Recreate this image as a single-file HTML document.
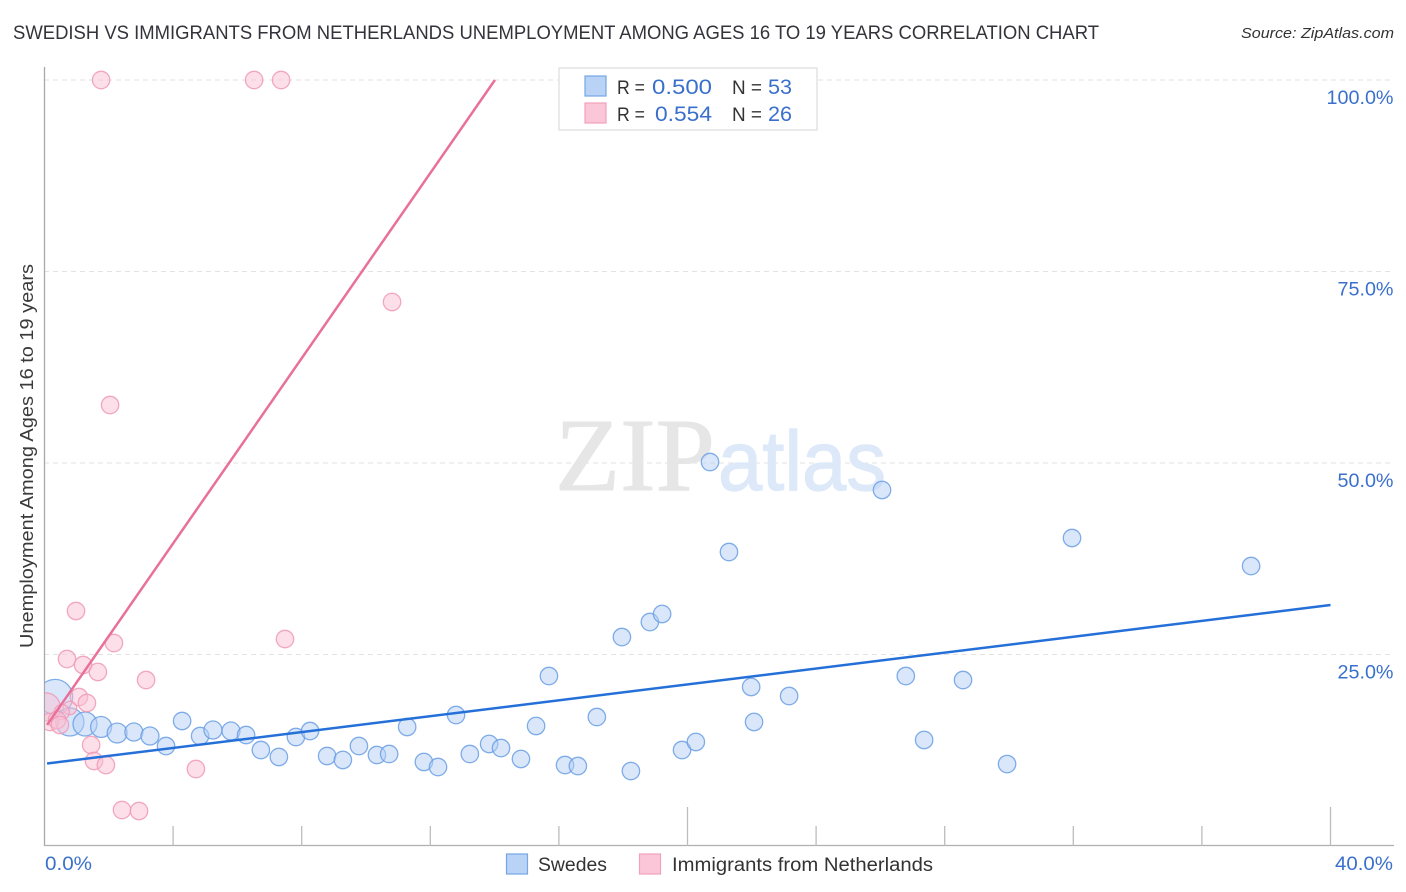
<!DOCTYPE html>
<html lang="en">
<head>
<meta charset="utf-8">
<title>Swedish vs Immigrants from Netherlands Unemployment Correlation Chart</title>
<style>
html,body{margin:0;padding:0;background:#fff;width:1406px;height:892px;overflow:hidden}
svg{display:block}
text{font-family:"Liberation Sans",sans-serif}
</style>
</head>
<body>
<svg id="chart" xmlns="http://www.w3.org/2000/svg" width="1406" height="892" viewBox="0 0 1406 892">
  <defs><clipPath id="plot-clip"><rect x="45" y="60" width="1349" height="785"/></clipPath></defs>
  <text x="13" y="39" font-size="19.5" fill="#33333b" textLength="1086" lengthAdjust="spacingAndGlyphs">SWEDISH VS IMMIGRANTS FROM NETHERLANDS UNEMPLOYMENT AMONG AGES 16 TO 19 YEARS CORRELATION CHART</text>
  <text x="1241" y="38" font-size="15" font-style="italic" fill="#333" textLength="153" lengthAdjust="spacingAndGlyphs">Source: ZipAtlas.com</text>
  <text transform="translate(33,648) rotate(-90)" font-size="18" fill="#3a3a3a" textLength="384" lengthAdjust="spacingAndGlyphs">Unemployment Among Ages 16 to 19 years</text>
  <g id="grid"></g>
  <g>
    <text x="555" y="490" font-size="104" fill="#e6e6e6" stroke="#e6e6e6" stroke-width="1" textLength="160" lengthAdjust="spacingAndGlyphs" style="font-family:'Liberation Serif',serif">ZIP</text>
    <text x="718" y="490" font-size="84" fill="#dde9f9" stroke="#dde9f9" stroke-width="1.2" textLength="168" lengthAdjust="spacingAndGlyphs">atlas</text>
  </g>
  <g id="axes"></g>
  <g id="marks" clip-path="url(#plot-clip)"></g>
  <g id="labels"></g>
  <g>
    <rect x="559" y="68" width="258" height="62" fill="#fff" stroke="#dcdcdc" stroke-width="1.2"/>
    <rect x="585" y="76" width="21" height="20" fill="#b9d3f6" stroke="#74a6e6" stroke-width="1.2"/>
    <rect x="585" y="103" width="21" height="20" fill="#fac6d8" stroke="#f2a2bb" stroke-width="1.2"/>
    <text x="617" y="94" font-size="19" fill="#333" textLength="28" lengthAdjust="spacingAndGlyphs">R =</text>
    <text x="652" y="94" font-size="21" fill="#3a70cc" textLength="60" lengthAdjust="spacingAndGlyphs">0.500</text>
    <text x="732" y="94" font-size="19" fill="#333" textLength="30" lengthAdjust="spacingAndGlyphs">N =</text>
    <text x="768" y="94" font-size="21" fill="#3a70cc" textLength="24" lengthAdjust="spacingAndGlyphs">53</text>
    <text x="617" y="121" font-size="19" fill="#333" textLength="28" lengthAdjust="spacingAndGlyphs">R =</text>
    <text x="655" y="121" font-size="21" fill="#3a70cc" textLength="57" lengthAdjust="spacingAndGlyphs">0.554</text>
    <text x="732" y="121" font-size="19" fill="#333" textLength="30" lengthAdjust="spacingAndGlyphs">N =</text>
    <text x="768" y="121" font-size="21" fill="#3a70cc" textLength="24" lengthAdjust="spacingAndGlyphs">26</text>
  </g>
  <g>
    <rect x="506.500" y="854" width="21" height="20" fill="#b9d3f6" stroke="#74a6e6" stroke-width="1.2"/>
    <text x="538" y="871" font-size="19" fill="#333" textLength="69" lengthAdjust="spacingAndGlyphs">Swedes</text>
    <rect x="639.500" y="854" width="21" height="20" fill="#fac6d8" stroke="#f2a2bb" stroke-width="1.2"/>
    <text x="672" y="871" font-size="19" fill="#333" textLength="261" lengthAdjust="spacingAndGlyphs">Immigrants from Netherlands</text>
  </g>
</svg>
<script>
const swedesX = [0.33,0.79,1.26,1.76,2.26,2.78,3.28,3.78,4.28,4.84,5.24,5.80,6.27,6.73,7.29,7.82,8.26,8.79,9.28,9.78,10.34,10.72,11.28,11.80,12.24,12.80,13.23,13.83,14.20,14.82,15.29,15.69,16.19,16.59,17.18,17.96,18.24,18.83,19.21,19.83,20.26,20.70,21.29,21.98,22.07,23.16,26.05,26.79,27.36,28.57,29.94,31.96,37.53];
const swedesY = [19.45,16.19,15.93,15.54,14.75,14.88,14.36,13.05,16.32,14.36,15.14,15.01,14.49,12.53,11.62,14.23,15.01,11.75,11.23,13.05,11.88,12.01,15.54,10.97,10.31,17.10,12.01,13.32,12.79,11.36,15.67,22.19,10.57,10.44,16.84,27.28,9.79,29.24,30.29,12.53,13.58,50.13,38.38,20.76,16.19,19.58,46.48,22.19,13.84,21.67,10.70,40.21,36.55];
const swedesWeight = [4.1,2.6,1.9,1.45,1.3,1.07,1.07,1,1,1,1.07,1.07,1,1,1,1,1,1,1,1,1,1,1,1,1,1,1,1,1,1,1,1,1,1,1,1,1,1,1,1,1,1,1,1,1,1,1,1,1,1,1,1,1];
const immigrantsX = [1.76,6.52,7.36,10.81,2.04,0.98,7.48,2.16,0.70,1.20,3.16,1.66,1.07,1.32,1.45,1.54,1.91,4.71,2.41,2.94,0.05,0.79,0.54,0.17,0.39,0.48];
const immigrantsY = [100,100,100,71.02,57.57,30.68,27.02,26.50,24.41,23.63,21.67,22.72,19.45,18.67,13.19,11.10,10.57,10.05,4.70,4.57,18.15,18.02,17.49,16.19,16.45,15.80];
const immigrantsWeight = [1,1,1,1,1,1,1,1,1,1,1,1,1,1,1,1,1,1,1,1,2.6,0.6,0.75,1,1,1];
const swedesTrendX = [0.08,40];
const swedesTrendY = [10.77,31.46];
const immigrantsTrendX = [0.08,14.01];
const immigrantsTrendY = [15.8,100];
const yTicks = [100,75,50,25];
const yTickLabels = ['100.0%','75.0%','50.0%','25.0%'];
const xTicks = [4,8,12,16,20,24,28,32,36,40];
const xMajorTicks = [20,40];
const xEndLabels = ['0.0%','40.0%'];

const SVGNS = 'http://www.w3.org/2000/svg';
function xScale(v){ return 44.5 + v * 32.15; }
function yScale(v){ return 846 - v * 7.66; }
function make(parent, tag, attrs, txt){
  const el = document.createElementNS(SVGNS, tag);
  for (const k in attrs) el.setAttribute(k, attrs[k]);
  if (txt !== undefined) el.textContent = txt;
  parent.appendChild(el);
  return el;
}
const grid = document.getElementById('grid');
const axes = document.getElementById('axes');
const marks = document.getElementById('marks');
const labels = document.getElementById('labels');

yTicks.forEach(function(t, i){
  const l = make(grid, 'line', {x1:44, x2:1393, y1:yScale(t), y2:yScale(t), stroke:'#e2e2e2', 'stroke-width':1, 'stroke-dasharray':'5 4'});
  
  
  const w = yTickLabels[i].length > 5 ? 67 : 56;
  const tx = make(labels, 'text', {x:1393.500 - w, y:yScale(t) + 24, 'font-size':19.5, fill:'#3a70cc', textLength:w, lengthAdjust:'spacingAndGlyphs'}, yTickLabels[i]);
  
  
});

const yAxis = make(axes, 'line', {x1:44.5, x2:44.5, y1:67, y2:846, stroke:'#a8a8a8', 'stroke-width':1.3});


const xAxis = make(axes, 'line', {x1:44, x2:1394, y1:845.5, y2:845.5, stroke:'#b0b0b0', 'stroke-width':1.3});


xTicks.forEach(function(t){
  const major = xMajorTicks.indexOf(t) >= 0;
  const tick = make(axes, 'line', {x1:xScale(t), x2:xScale(t), y1:major ? 807 : 826, y2:846, stroke:'#bcbcbc', 'stroke-width':1.3});
  
  
});
const x0 = make(labels, 'text', {x:45, y:870, 'font-size':19.5, fill:'#3a70cc', textLength:47, lengthAdjust:'spacingAndGlyphs'}, xEndLabels[0]);


const x1 = make(labels, 'text', {x:1335, y:870, 'font-size':19.5, fill:'#3a70cc', textLength:58, lengthAdjust:'spacingAndGlyphs'}, xEndLabels[1]);



function drawPoints(xs, ys, ws, fill, stroke, name){
  xs.forEach(function(v, i){
    const c = make(marks, 'circle', {cx:xScale(v), cy:yScale(ys[i]), r:8.7 * Math.sqrt(ws[i]), fill:fill, 'fill-opacity':0.5, stroke:stroke, 'stroke-opacity':0.85, 'stroke-width':1.3});
    
    
  });
}
drawPoints(swedesX, swedesY, swedesWeight, '#b5d0f5', '#6a9fe4', 'swedes');
drawPoints(immigrantsX, immigrantsY, immigrantsWeight, '#f9c0d3', '#f09ab5', 'immigrants');

const blueLine = make(marks, 'line', {x1:xScale(swedesTrendX[0]), y1:yScale(swedesTrendY[0]), x2:xScale(swedesTrendX[1]), y2:yScale(swedesTrendY[1]), stroke:'#2470d8', 'stroke-width':2.5});


const pinkLine = make(marks, 'line', {x1:xScale(immigrantsTrendX[0]), y1:yScale(immigrantsTrendY[0]), x2:xScale(immigrantsTrendX[1]), y2:yScale(immigrantsTrendY[1]), stroke:'#e8709a', 'stroke-width':2.5});


</script>
</body>
</html>
